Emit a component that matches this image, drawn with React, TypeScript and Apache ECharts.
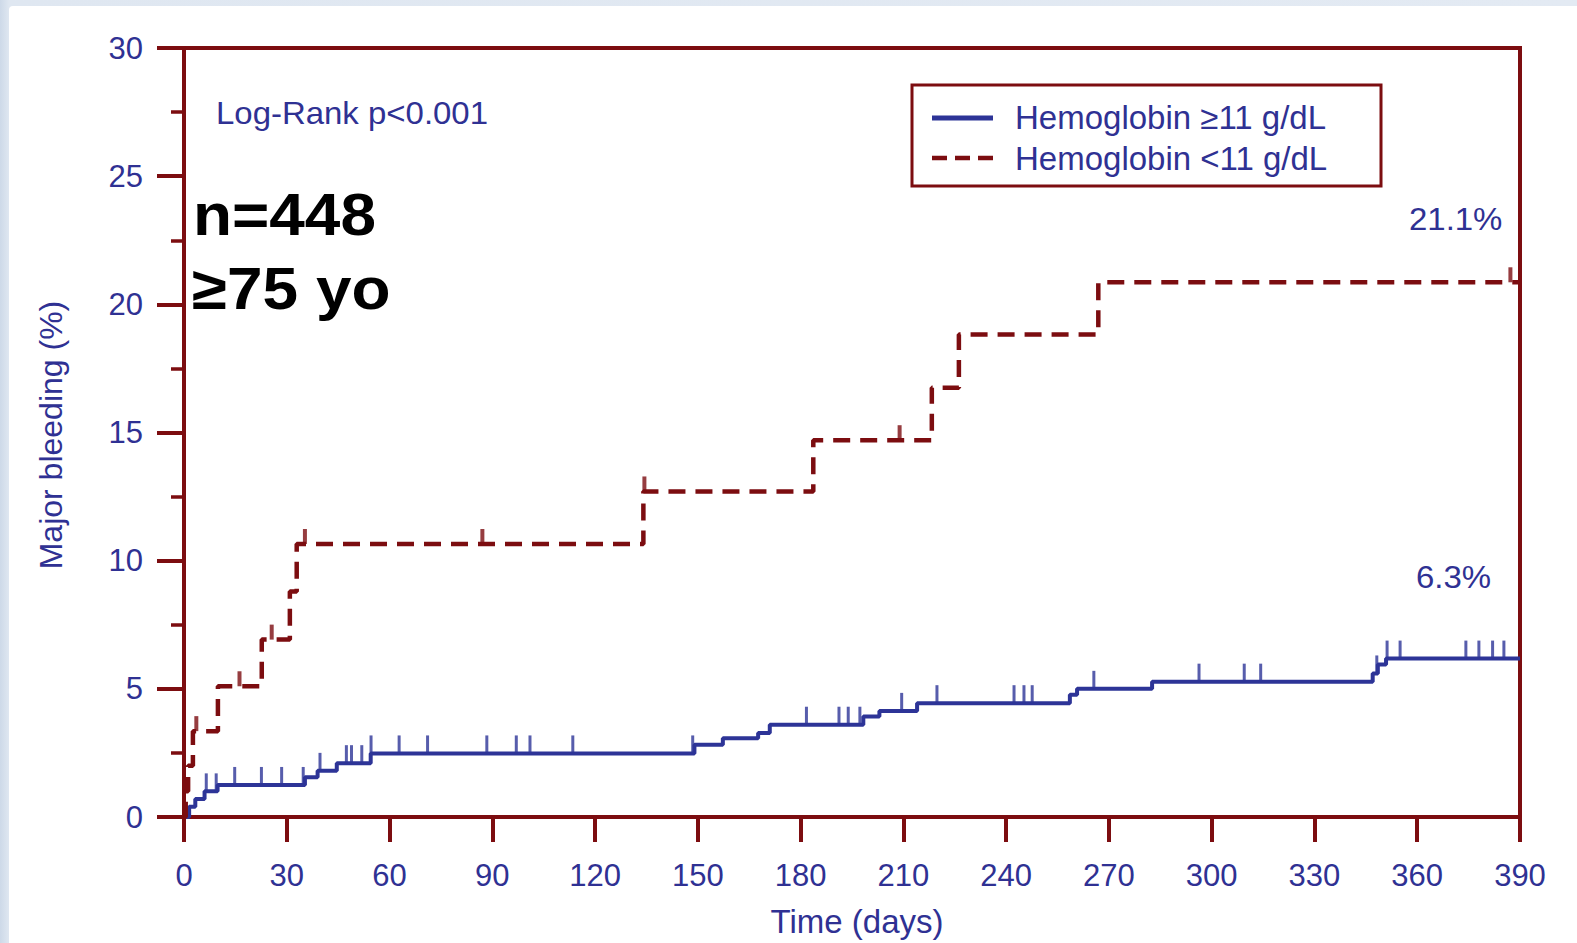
import React, { useEffect, useRef } from "react";
import * as echarts from "echarts";

// ---- data ----
const seriesNames = ["Hemoglobin ≥11 g/dL", "Hemoglobin <11 g/dL"];

// Kaplan-Meier style cumulative incidence (day, % after event)
const hbHighSteps: [number, number][] = [
  [0, 0], [1.5, 0.4], [3.3, 0.7], [6, 1.0], [9.8, 1.25],
  [35.3, 1.55], [39, 1.8], [44.6, 2.1], [54.5, 2.48],
  [149, 2.82], [157.3, 3.07], [167.6, 3.28], [171, 3.6],
  [198.3, 3.92], [203, 4.14], [214, 4.44], [258.6, 4.77], [260.7, 5.0],
  [282.6, 5.28], [347, 5.6], [348.5, 5.95], [350.9, 6.18], [390, 6.18],
];
const hbLowSteps: [number, number][] = [
  [0, 0], [0.5, 1.0], [1.2, 2.0], [2.6, 3.35], [9.9, 5.1], [22.7, 6.92],
  [30.9, 8.8], [32.9, 10.65], [134.1, 12.7], [183.7, 14.7], [218.3, 16.75],
  [226.2, 18.82], [266.9, 20.86], [390, 20.86],
];
// censoring marks (days)
const hbHighCensor = [
  6.5, 9.4, 14.8, 22.6, 28.5, 34.8, 39.7, 47.4, 48.9, 51.9, 54.6, 62.8, 71.1,
  88.4, 97, 101, 113.5, 148.5, 181.7, 191.2, 193.9, 197.3, 209.5, 219.8, 242.3,
  245.2, 247.6, 265.6, 296.3, 309.5, 314.3, 348.2, 351.2, 355, 374.2, 378, 382, 385.3,
];
const hbLowCensor = [3.6, 16.2, 25.6, 35.3, 87.1, 134.4, 208.9, 387.2];

const xTickInterval = 30;
const xMax = 390;
const yTickInterval = 5;
const yMax = 30;
const finalLabels = ["6.3%", "21.1%"];
const annotations = ["Log-Rank p<0.001", "n=448", "≥75 yo"];
const axisTitles = ["Time (days)", "Major bleeding (%)"];

const RED = "#7c0d10";
const BLUE = "#2d3497";
const TEXT_BLUE = "#2f3193";
const FONT = '"Liberation Sans", Arial, sans-serif';

function valueAt(steps: [number, number][], day: number): number {
  let v = 0;
  for (const [d, val] of steps) if (d <= day) v = val;
  return v;
}

export default function App() {
  const ref = useRef<HTMLDivElement>(null);

  useEffect(() => {
    if (!ref.current) return;
    const chart = echarts.init(ref.current, undefined, { renderer: "svg" });
    const option: any = {
      animation: false,
      backgroundColor: "transparent",
      grid: {
        left: 184,
        top: 48,
        right: 57,
        bottom: 126,
        show: true,
        borderColor: RED,
        borderWidth: 4,
        backgroundColor: "transparent",
      },
      xAxis: {
        type: "value",
        min: 0,
        max: xMax,
        interval: xTickInterval,
        axisLine: { show: true, lineStyle: { color: RED, width: 4 } },
        axisTick: { show: true, length: 25, lineStyle: { color: RED, width: 4 } },
        axisLabel: { color: TEXT_BLUE, fontSize: 31, fontFamily: FONT, margin: 43 },
        splitLine: { show: false },
      },
      yAxis: {
        type: "value",
        min: 0,
        max: yMax,
        interval: yTickInterval,
        axisLine: { show: true, lineStyle: { color: RED, width: 4 } },
        axisTick: { show: true, length: 27, lineStyle: { color: RED, width: 4 } },
        minorTick: { show: true, splitNumber: 2, length: 13, lineStyle: { color: RED, width: 3.5 } },
        minorSplitLine: { show: false },
        axisLabel: { color: TEXT_BLUE, fontSize: 31, fontFamily: FONT, margin: 41 },
        splitLine: { show: false },
      },
      series: [
        {
          name: seriesNames[0],
          type: "line",
          step: "end",
          symbol: "none",
          data: hbHighSteps,
          lineStyle: { color: BLUE, width: 4 },
          itemStyle: { color: BLUE },
          z: 3,
        },
        {
          name: seriesNames[1],
          type: "line",
          step: "end",
          symbol: "none",
          data: hbLowSteps,
          lineStyle: { color: RED, width: 4.5, type: [17, 10] },
          itemStyle: { color: RED },
          z: 4,
        },
        {
          name: "censor-high",
          type: "scatter",
          symbol: "rect",
          symbolSize: [3, 18],
          symbolOffset: [0, -9],
          data: hbHighCensor.map((d) => [d, valueAt(hbHighSteps, d)]),
          itemStyle: { color: BLUE },
          z: 3,
        },
        {
          name: "censor-low",
          type: "scatter",
          symbol: "rect",
          symbolSize: [4, 15],
          symbolOffset: [0, -7.5],
          data: hbLowCensor.map((d) => [d, valueAt(hbLowSteps, d)]),
          itemStyle: { color: RED },
          z: 4,
        },
      ],
      graphic: [
        // legend
        {
          type: "rect",
          shape: { x: 912, y: 85, width: 469, height: 101 },
          style: { fill: "#fff", stroke: RED, lineWidth: 3 },
          z: 10,
        },
        {
          type: "line",
          shape: { x1: 932, y1: 118, x2: 993, y2: 118 },
          style: { stroke: BLUE, lineWidth: 5 },
          z: 11,
        },
        {
          type: "line",
          shape: { x1: 932, y1: 158, x2: 993, y2: 158 },
          style: { stroke: RED, lineWidth: 4.5, lineDash: [15, 8] },
          z: 11,
        },
        {
          type: "text",
          x: 1015,
          y: 117,
          z: 11,
          style: { text: seriesNames[0], fill: TEXT_BLUE, font: `33px ${FONT}`, align: "left", verticalAlign: "middle" },
        },
        {
          type: "text",
          x: 1015,
          y: 158,
          z: 11,
          style: { text: seriesNames[1], fill: TEXT_BLUE, font: `33px ${FONT}`, align: "left", verticalAlign: "middle" },
        },
        // annotations
        {
          type: "text",
          x: 216,
          y: 113,
          scaleX: 1.03,
          style: { text: annotations[0], fill: TEXT_BLUE, font: `32px ${FONT}`, align: "left", verticalAlign: "middle" },
        },
        {
          type: "text",
          x: 193,
          y: 214,
          scaleX: 1.065,
          style: { text: annotations[1], fill: "#000", font: `bold 60px ${FONT}`, align: "left", verticalAlign: "middle" },
        },
        {
          type: "text",
          x: 192,
          y: 288,
          scaleX: 1.065,
          style: { text: annotations[2], fill: "#000", font: `bold 60px ${FONT}`, align: "left", verticalAlign: "middle" },
        },
        {
          type: "text",
          x: 1409,
          y: 219,
          scaleX: 1.03,
          style: { text: finalLabels[1], fill: TEXT_BLUE, font: `32px ${FONT}`, align: "left", verticalAlign: "middle" },
        },
        {
          type: "text",
          x: 1416,
          y: 577,
          scaleX: 1.03,
          style: { text: finalLabels[0], fill: TEXT_BLUE, font: `32px ${FONT}`, align: "left", verticalAlign: "middle" },
        },
        {
          type: "text",
          x: 857,
          y: 921,
          style: { text: axisTitles[0], fill: TEXT_BLUE, font: `33px ${FONT}`, align: "center", verticalAlign: "middle" },
        },
        {
          type: "text",
          x: 51,
          y: 435,
          rotation: Math.PI / 2,
          style: { text: axisTitles[1], fill: TEXT_BLUE, font: `32px ${FONT}`, align: "center", verticalAlign: "middle" },
        },
      ],
    };
    chart.setOption(option);
    return () => chart.dispose();
  }, []);

  return (
    <div
      style={{
        position: "fixed",
        left: 0,
        top: 0,
        width: 1577,
        height: 943,
        background: "linear-gradient(90deg, #cdd9e8 0px, #dfe7f1 9px, #e3eaf3 100%)",
        overflow: "hidden",
      }}
    >
      <div
        style={{
          position: "absolute",
          left: 9,
          top: 6,
          right: 0,
          bottom: 0,
          background: "#ffffff",
          borderTopLeftRadius: 4,
        }}
      />
      <div ref={ref} style={{ position: "absolute", left: 0, top: 0, width: 1577, height: 943 }} />
    </div>
  );
}
